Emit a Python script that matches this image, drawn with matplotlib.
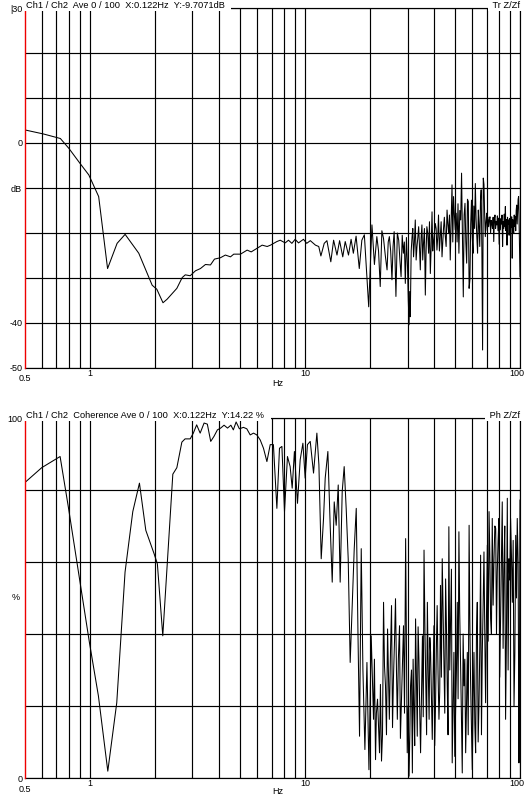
import matplotlib
matplotlib.use("Agg")
import matplotlib.pyplot as plt

plt.rcParams['font.family'] = ['Liberation Sans', 'DejaVu Sans']
plt.rcParams['font.size'] = 6.5

# transfer function, magnitude in dB
tf_freq = [0.5, 0.61, 0.73, 0.80, 0.90, 0.99, 1.10, 1.21, 1.34, 1.46, 1.69, 1.95, 2.05, 2.19, 2.29,
           2.54, 2.69, 2.78, 2.93, 3.10, 3.27, 3.45, 3.64, 3.80, 4.05, 4.27, 4.51, 4.67, 5.02, 5.39,
           5.63, 6.00, 6.33, 6.68, 6.92,
           7.41, 7.68, 8.10, 8.39, 8.70, 9.01, 9.34, 9.85, 10.2, 10.6, 11.2, 11.6, 11.87, 12.3, 12.66,
           13.2, 13.6, 14.1, 14.5, 15.0, 15.4, 15.95, 16.4, 16.8, 17.3, 17.9, 18.4, 18.9, 19.3, 19.8,
           20.5, 21.05, 21.6, 22.0, 22.4, 22.8, 23.2, 23.65, 24.1, 24.4, 24.7, 25.05, 25.4, 25.7, 26.0,
           26.25, 26.5, 26.9, 27.3, 27.65, 28.0, 28.35, 28.7, 29.0, 29.3, 29.65, 30.0, 30.25, 30.5, 30.7,
           30.9, 31.2, 31.5, 31.75, 32.0, 32.3, 32.6, 32.9, 33.2, 33.5, 33.8, 34.1, 34.4, 34.7, 35.0,
           35.3, 35.6, 35.95, 36.3, 36.6, 36.9, 37.25, 37.6, 37.95, 38.3, 38.65, 39.0, 39.3, 39.6, 40.0,
           40.4, 40.75, 41.1, 41.45, 41.8, 42.2, 42.6, 43.0, 43.4, 43.75, 44.1, 44.5, 44.9, 45.35, 45.8,
           46.2, 46.6, 47.0, 47.4, 47.85, 48.3, 48.7, 49.1, 49.55,
           50.0, 50.5, 51.0, 51.5, 52.0, 52.5, 53.0, 53.5, 54.0, 54.5, 55.0, 55.5, 56.0, 56.5, 57.0,
           57.5, 58.0, 58.5, 59.0, 59.5, 60.0, 60.5, 61.0, 61.5, 62.0, 62.5, 63.0, 63.5, 64.0, 64.5,
           65.0, 65.5, 66.0, 66.5, 67.0, 67.5, 68.0, 68.5, 69.0, 69.5, 70.0, 70.5, 71.0, 71.5, 72.0,
           72.5, 73.0, 73.5, 74.0, 74.5, 75.0, 75.5, 76.0, 76.5, 77.0, 77.5, 78.0, 78.5, 79.0, 79.5,
           80.0, 80.5, 81.0, 81.5, 82.0, 82.5, 83.0, 83.5, 84.0, 84.5, 85.0, 85.5, 86.0, 86.5, 87.0,
           87.5, 88.0, 88.5, 89.0, 89.5, 90.0, 90.5, 91.0, 91.5, 92.0, 92.5, 93.0, 93.5, 94.0, 94.5,
           95.0, 95.5, 96.0, 96.5, 97.0, 97.5, 98.0, 98.5, 99.0, 99.5, 100.0]
tf_db = [2.9, 2.0, 1.0, -1.2, -4.5, -7.1, -11.9, -27.9, -22.3, -20.3, -24.5, -31.6, -32.5, -35.5, -34.7,
         -32.3, -29.9, -29.3, -29.5, -28.4, -27.9, -27.0, -27.1, -25.8, -25.5, -24.9, -25.3, -24.7, -24.7, -23.8,
         -24.2, -23.4, -22.7, -23.0, -22.7,
         -21.9, -21.6, -22.2, -21.6, -22.3, -21.4, -22.2, -21.4, -22.3, -21.7, -22.7, -23.0, -25.1, -22.3, -21.7,
         -26.4, -21.6, -24.9, -21.7, -25.3, -21.9, -24.9, -21.4, -24.5, -20.7, -27.9, -21.6, -20.4, -27.5, -36.4,
         -18.2, -27.0, -20.8, -24.0, -31.9, -19.5, -21.2, -25.0, -28.2, -22.0, -20.8, -24.0, -30.4, -23.0, -19.7,
         -26.0, -34.1, -20.0, -21.6, -26.0, -29.7, -20.5, -24.5, -22.0, -31.2, -21.0, -27.5, -35.0, -40.4, -33.0,
         -38.6, -24.0, -20.8, -19.0, -25.3, -22.0, -17.1, -26.0, -23.0, -21.0, -18.6, -23.0, -28.2, -21.0, -18.2,
         -26.0, -22.3, -19.0, -33.8, -24.0, -18.6, -20.0, -24.5, -17.5, -29.0, -23.0, -15.3, -24.0, -21.9, -20.0,
         -17.9, -19.0, -23.8, -21.0, -16.0, -24.0, -20.8, -17.5, -25.3, -22.0, -19.0, -16.5, -20.4, -23.0, -14.9,
         -18.0, -20.1, -16.0, -26.0, -18.0, -9.3, -22.0, -11.9, -16.0,
         -19.3, -15.6, -22.0, -13.5, -24.5, -15.0, -17.1, -6.7, -20.0, -34.2, -16.0, -13.4, -22.0, -26.7, -12.5,
         -13.0, -32.3, -30.4, -18.0, -12.7, -21.0, -24.5, -14.0, -19.0, -9.0, -17.0, -20.8, -24.5, -14.9, -18.5,
         -23.0, -13.0, -10.4, -24.0, -46.0, -7.8, -9.2, -16.0, -20.8, -17.5, -15.6, -19.5, -16.5, -18.6, -17.0,
         -16.4, -20.0, -17.2, -17.9, -19.0, -16.5, -21.9, -17.0, -16.0, -19.0, -17.5, -18.2, -16.2, -19.5, -16.7,
         -22.5, -17.0, -19.3, -16.8, -18.0, -16.0, -23.0, -17.5, -19.0, -15.8, -18.5, -14.1, -19.5, -17.0, -22.7,
         -16.5, -18.0, -17.1, -20.5, -16.8, -19.0, -17.5, -18.8, -16.4, -25.6, -17.0, -19.0, -20.1, -16.0, -18.5,
         -16.4, -19.5, -15.0, -13.8, -18.0, -15.5, -12.5, -11.9, -17.0, -24.2, -29.7]

# coherence in %
coh_freq = [0.5, 0.598, 0.728, 0.795, 0.901, 0.996, 1.097, 1.213, 1.335, 1.459, 1.585, 1.702, 1.822, 1.991,
            2.062, 2.185, 2.433, 2.54, 2.68, 2.774, 2.93, 3.03, 3.14, 3.26, 3.40, 3.52, 3.65, 3.78, 3.92,
            4.06, 4.21, 4.37, 4.53, 4.65, 4.79, 4.96, 5.18, 5.37, 5.57, 5.77, 5.98, 6.20, 6.42, 6.66, 6.90,
            7.14, 7.41, 7.62, 7.82, 8.04, 8.30, 8.54, 8.73, 8.94, 9.24, 9.51, 9.79, 10.03, 10.28, 10.59,
            10.97, 11.37, 11.62, 11.91, 12.21, 12.43, 12.79, 13.11, 13.40, 13.69, 13.98, 14.29, 14.59,
            14.91, 15.23, 15.56, 15.90, 16.24, 16.60, 16.96, 17.33, 17.64, 17.95, 18.28, 18.61, 19.01,
            19.43, 19.85,
            20.34, 20.6, 20.85, 21.05, 21.30, 21.5, 21.76, 22.0, 22.23, 22.45, 22.71, 22.95, 23.21, 23.45,
            23.7, 23.95, 24.23, 24.45, 24.7, 25.0, 25.28, 25.55, 25.8, 26.1, 26.38, 26.65, 26.9, 27.2,
            27.54, 27.8, 28.1, 28.4, 28.74, 29.05, 29.4, 29.65, 29.91, 30.2, 30.5, 30.75, 30.99, 31.3,
            31.6, 31.85, 32.14, 32.4, 32.7, 33.0, 33.3, 33.6, 33.9, 34.2, 34.5, 34.85, 35.2, 35.5, 35.8,
            36.15, 36.5, 36.8, 37.1, 37.45, 37.8, 38.1, 38.4, 38.75, 39.1, 39.45, 39.8, 40.15, 40.5, 40.85,
            41.2, 41.6, 42.0, 42.35, 42.7, 43.1, 43.5, 43.9, 44.3, 44.7, 45.1, 45.5, 45.9, 46.3, 46.7,
            47.15, 47.6, 48.0, 48.4, 48.85, 49.3, 49.75, 50.2, 50.65, 51.1, 51.55, 52.0, 52.45, 52.9,
            53.4, 53.9, 54.4, 54.9, 55.4, 55.9, 56.4, 56.9, 57.45, 58.0, 58.45, 58.9, 59.45, 60.0, 60.55,
            61.1, 61.65, 62.2, 62.75, 63.3, 63.9, 64.5, 65.05, 65.6, 66.2, 66.8, 67.4, 68.0, 68.6, 69.2,
            69.85, 70.5, 71.15, 71.8, 72.4, 73.0, 73.65, 74.3, 75.0, 75.7, 76.4, 77.1, 77.75, 78.4, 79.1,
            79.8, 80.5, 81.2, 81.95, 82.7, 83.45, 84.2, 84.95, 85.7, 86.5, 87.3, 88.05, 88.8, 89.6, 90.4,
            91.25, 92.1, 92.95, 93.8, 94.65, 95.5, 96.3, 97.1, 98.0, 98.9, 99.45, 100.0]
coh_pct = [82.1, 86.2, 89.3, 75.3, 54.4, 37.7, 22.8, 1.9, 20.9, 57.2, 74.0, 81.9, 68.8, 62.3,
           59.5, 39.5, 84.4, 86.2, 93.3, 94.2, 94.2, 95.8, 98.1, 95.8, 98.6, 98.3, 93.5, 94.9, 96.7,
           97.2, 98.0, 97.2, 98.0, 96.7, 98.9, 97.0, 97.4, 97.0, 95.3, 95.8, 95.3, 93.9, 91.6, 87.9, 92.6,
           92.6, 74.9, 91.6, 92.1, 74.0, 89.3, 86.5, 80.5, 90.7, 76.3, 88.4, 93.0, 83.3, 92.6, 93.5,
           84.7, 95.8, 87.0, 60.9, 72.1, 83.3, 90.7, 70.2, 54.4, 76.7, 70.2, 81.4, 54.4,
           79.5, 86.5, 74.9, 60.9, 32.1, 47.9, 63.7, 74.9, 41.4, 11.6, 63.7, 30.2, 7.9,
           32.1, 2.3,
           39.5, 28, 16.3, 33, 5.1, 18, 21.9, 14, 7.0, 26, 4.7, 12, 48.8, 31,
           25.6, 12, 41.4, 30, 16.3, 35, 47.9, 14, 27.4, 38, 49.8, 30, 16.3, 33,
           42.3, 11, 20.9, 30, 42.3, 18, 66.5, 38, 7.0, 20, 0.5, 12, 25.6, 30,
           1.4, 33, 19.1, 9, 44.2, 27, 11.6, 42, 33.0, 18, 7.0, 23, 39.5, 17, 63.3,
           41, 25.6, 12, 48.8, 30, 16.3, 39, 34.9, 22, 10.7, 28, 42.3, 9, 20.9, 36,
           47.9, 29, 16.3, 24, 53.5, 28, 60.9, 47, 34.9, 18, 55.3, 42, 25.6, 12, 69.8,
           30, 44.2, 58, 4.2, 20, 34.9, 6, 19.1, 30, 48.8, 22, 68.4, 46, 33.0,
           18, 1.4, 40, 25.6, 33, 7.0, 20, 34.9, 12, 70.2, 44, 27.4, 15, 2.3, 22,
           34.9, 15, 7.0, 40, 48.8, 10, 20.9, 37, 61.9, 12, 34.9, 48, 62.8, 40, 20.9,
           45, 64.7, 38, 74.0, 62, 44.2, 40, 72.1, 48, 60.9, 70, 69.3, 40, 57.2, 66,
           72.1, 28, 44.2, 60, 76.7, 36, 58.1, 70, 16.3, 40, 77.7, 30, 60.9, 55, 72.1,
           62, 48.8, 66, 20.0, 35, 67.4, 50, 72.1, 60, 4.2, 30, 77.2]

grid_freqs = [0.6, 0.7, 0.8, 0.9, 1, 2, 3, 4, 5, 6, 7, 8, 9, 10,
              20, 30, 40, 50, 60, 70, 80, 90, 100]
freq_labels = [(0.5, '0.5'), (1, '1'), (10, '10'), (100, '100')]

top_title = 'Ch1 / Ch2  Ave 0 / 100  X:0.122Hz  Y:-9.7071dB  '
bot_title = 'Ch1 / Ch2  Coherence Ave 0 / 100  X:0.122Hz  Y:14.22 %  '

fig = plt.figure(figsize=(5.24, 7.99), dpi=100)
ax1 = fig.add_axes([25/524, 1 - 368/799, 495/524, 360/799])
ax2 = fig.add_axes([25/524, 1 - 778/799, 495/524, 360/799])


def style_axis(ax, title, tag, ylabel_map, yunit, yunit_pos, yticks, lab_dy, hz_dy):
    ax.set_xscale('log')
    ax.set_xlim(0.5, 100)
    ax.set_xticks(grid_freqs)
    ax.set_xticks([], minor=True)
    ax.set_xticklabels([])
    ax.set_yticks(yticks)
    ax.set_yticklabels([ylabel_map.get(v, '') for v in yticks])
    ax.tick_params(length=0, pad=2, labelsize=6.5)
    ax.grid(True, color='black', lw=0.85)
    ax.set_axisbelow(True)
    for s in ax.spines.values():
        s.set_color('black')
        s.set_linewidth(0.85)
    ax.spines['left'].set_color('#ee0000')
    ax.spines['left'].set_linewidth(1.0)
    ax.spines['left'].set_zorder(5)
    for f, lab in freq_labels:
        dy = lab_dy[1] if lab == '0.5' else lab_dy[0]
        ha = 'right' if lab == '100' else 'center'
        dx = 3 if lab == '100' else 0
        ax.annotate(lab, xy=(f, 0), xycoords=('data', 'axes fraction'),
                    xytext=(dx, dy), textcoords='offset points', ha=ha, va='center')
    ax.annotate('Hz', xy=(0.51, 0), xycoords='axes fraction', xytext=(0, hz_dy),
                textcoords='offset points', ha='center', va='center')
    if yunit:
        ax.annotate(yunit, xy=(0, yunit_pos), xycoords=('axes fraction', 'data'),
                    xytext=(-4, 0), textcoords='offset points', ha='right', va='center')
    box = dict(fc='white', ec='none', pad=1.2)
    ax.annotate(title, xy=(0, 1), xycoords='axes fraction', xytext=(0.5, -1.2),
                textcoords='offset points', ha='left', va='bottom', bbox=box, zorder=6,
                fontsize=6.7)
    ax.annotate(' ' + tag, xy=(1, 1), xycoords='axes fraction', xytext=(0, -1.2),
                textcoords='offset points', ha='right', va='bottom', bbox=box, zorder=6,
                fontsize=6.7)


ax1.plot(tf_freq, tf_db, color='black', lw=0.75, zorder=3)
ax1.set_ylim(-50, 30)
style_axis(ax1, top_title, 'Tr Z/Zf', {30: '|30', 0: '0', -10: 'dB', -40: '-40', -50: '-50'},
           None, None, list(range(-50, 31, 10)), (-3.8, -7.4), -11.5)

ax2.plot(coh_freq, coh_pct, color='black', lw=0.75, zorder=3)
ax2.set_ylim(0, 100)
style_axis(ax2, bot_title, 'Ph Z/Zf', {100: '100', 0: '0'}, '%', 50, list(range(0, 101, 20)),
           (-4.2, -8.6), -9.6)

fig.savefig('out.png', dpi=100)
